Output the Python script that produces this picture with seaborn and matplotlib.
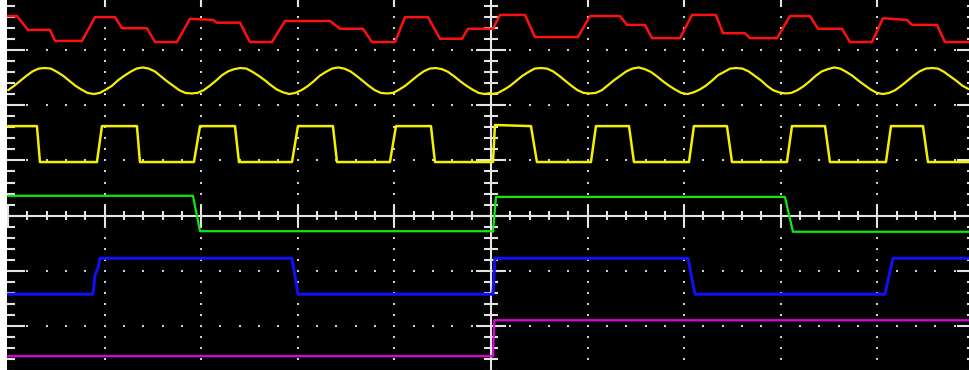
import matplotlib
matplotlib.use('Agg')
import matplotlib.pyplot as plt
import numpy as np
import pandas as pd
import seaborn as sns

# scope traces, x in horizontal divisions, y in vertical divisions
red_t = [-5.0, -4.907, -4.793, -4.565, -4.513, -4.234, -4.099, -3.892, -3.820, -3.561,
         -3.478, -3.251, -3.116, -2.878, -2.836, -2.598, -2.495, -2.267, -2.133, -1.667,
         -1.563, -1.325, -1.232, -0.994, -0.890, -0.652, -0.528, -0.300, -0.238, -0.010,
         0.021, 0.093, 0.352, 0.455, 0.901, 1.025, 1.335, 1.408, 1.594, 1.667,
         1.957, 2.081, 2.329, 2.402, 2.629, 2.681, 2.961, 3.095, 3.302, 3.385,
         3.634, 3.716, 3.944, 4.058, 4.306, 4.358, 4.617, 4.700, 4.96]
red_v = [3.61, 3.61, 3.36, 3.36, 3.16, 3.16, 3.59, 3.59, 3.39, 3.39,
         3.14, 3.14, 3.56, 3.54, 3.49, 3.49, 3.14, 3.14, 3.52, 3.52,
         3.38, 3.38, 3.14, 3.14, 3.59, 3.59, 3.20, 3.20, 3.38, 3.38,
         3.38, 3.63, 3.63, 3.23, 3.23, 3.61, 3.61, 3.45, 3.45, 3.21,
         3.21, 3.63, 3.63, 3.30, 3.30, 3.21, 3.21, 3.61, 3.61, 3.38,
         3.38, 3.14, 3.14, 3.57, 3.54, 3.45, 3.45, 3.14, 3.14]

sine_left_start, sine_right_start, sine_step = -4.998, 0.01, 0.06325
sine_left = [2.27, 2.35, 2.44, 2.53, 2.61, 2.66, 2.67, 2.66, 2.60, 2.53, 2.44, 2.35, 2.28, 2.22, 2.20, 2.22,
             2.28, 2.35, 2.45, 2.53, 2.60, 2.66, 2.68, 2.66, 2.61, 2.52, 2.43, 2.35, 2.27, 2.22, 2.21, 2.22,
             2.27, 2.35, 2.44, 2.54, 2.61, 2.65, 2.67, 2.66, 2.60, 2.53, 2.45, 2.36, 2.28, 2.23, 2.20, 2.22,
             2.27, 2.34, 2.43, 2.53, 2.60, 2.66, 2.68, 2.66, 2.61, 2.53, 2.44, 2.35, 2.27, 2.22, 2.21, 2.22,
             2.28, 2.35, 2.44, 2.53, 2.61, 2.66, 2.67, 2.65, 2.60, 2.52, 2.43, 2.35, 2.28, 2.22, 2.20, 2.22]
sine_right = [2.20, 2.22, 2.28, 2.35, 2.44, 2.53, 2.60, 2.66, 2.67, 2.66, 2.61, 2.53, 2.44, 2.35, 2.27, 2.22,
              2.21, 2.22, 2.27, 2.36, 2.45, 2.53, 2.61, 2.66, 2.68, 2.65, 2.60, 2.52, 2.43, 2.35, 2.28, 2.22,
              2.20, 2.23, 2.28, 2.35, 2.44, 2.54, 2.60, 2.66, 2.67, 2.66, 2.61, 2.53, 2.45, 2.35, 2.27, 2.23,
              2.21, 2.22, 2.27, 2.34, 2.43, 2.53, 2.61, 2.65, 2.68, 2.66, 2.60, 2.53, 2.44, 2.36, 2.28, 2.22,
              2.20, 2.22, 2.27, 2.35, 2.44, 2.53, 2.61, 2.66, 2.67, 2.66, 2.60, 2.52, 2.44, 2.35, 2.29]

square_t = [-5.0, -4.700, -4.669, -4.079, -4.027, -3.665, -3.634, -3.075, -3.012, -2.650,
            -2.609, -2.060, -1.998, -1.636, -1.594, -1.046, -0.983, -0.621, -0.580, 0.0,
            0.021, 0.041, 0.414, 0.476, 1.035, 1.087, 1.429, 1.480, 2.050, 2.101,
            2.443, 2.495, 3.064, 3.116, 3.458, 3.509, 4.089, 4.141, 4.472, 4.524, 4.96]
square_v = [1.62, 1.62, 0.97, 0.97, 1.62, 1.62, 0.97, 0.97, 1.62, 1.62,
            0.97, 0.97, 1.62, 1.62, 0.97, 0.97, 1.62, 1.62, 0.97, 0.97,
            0.97, 1.64, 1.62, 0.97, 0.97, 1.62, 1.62, 0.97, 0.97, 1.62,
            1.62, 0.97, 0.97, 1.62, 1.62, 0.97, 0.97, 1.62, 1.62, 0.97, 0.97]

green_t = [-5.0, -3.085, -3.012, 0.0, 0.021, 0.052, 3.043, 3.126, 4.96]
green_v = [0.36, 0.36, -0.28, -0.28, -0.29, 0.34, 0.34, -0.29, -0.29]

blue_t = [-5.0, -4.120, -4.099, -4.068, -4.048, -2.060, -1.998, 0.0, 0.021, 0.041,
          2.039, 2.112, 4.079, 4.161, 4.96]
blue_v = [-1.42, -1.42, -1.07, -0.95, -0.77, -0.77, -1.42, -1.42, -1.42, -0.77,
          -0.77, -1.42, -1.42, -0.77, -0.77]

magenta_t = [-5.0, 0.0, 0.021, 0.035, 4.96]
magenta_v = [-2.54, -2.54, -2.54, -1.89, -1.89]

XMIN, XMAX = -5.01, 4.959
YMIN, YMAX = -2.79, 3.90
GRID = '#d2d2d2'
AXIS = '#e4e4e4'


def trace(ax, t, v, color, lw):
    df = pd.DataFrame({'t': t, 'v': v})
    sns.lineplot(data=df, x='t', y='v', sort=False, estimator=None,
                 color=color, lw=lw, ax=ax)


def draw_graticule(ax):
    fine_y = np.round(np.arange(-2.8, 3.81, 0.2), 2)
    fine_x = np.round(np.arange(-5.0, 5.01, 0.2), 2)
    dx, dy = [], []
    for gx in [-4, -3, -2, -1, 1, 2, 3, 4]:
        dx += [gx] * len(fine_y)
        dy += list(fine_y)
    for gy in [-2, -1, 1, 2, 3]:
        dx += list(fine_x)
        dy += [gy] * len(fine_x)
    ax.scatter(dx, dy, s=3.5, marker='s', color=GRID, linewidths=0, zorder=1)

    ax.axhline(0, color=AXIS, lw=1.5, zorder=1)
    ax.axvline(0, color=AXIS, lw=1.5, zorder=1)
    for xv in fine_x:
        major = abs(xv - round(xv)) < 1e-6
        h = 0.2 if major else 0.082
        ax.vlines(xv, -h, h, color=AXIS, lw=1.5, zorder=1)
    for yv in fine_y:
        major = abs(yv - round(yv)) < 1e-6
        h = 0.155 if major else 0.075
        ax.hlines(yv, -h, h, color=AXIS, lw=1.5, zorder=1)
        # frame ticks, left and right borders
        ln = 0.186 if major else 0.083
        ax.hlines(yv, -5.01, -5.01 + ln, color=AXIS, lw=1.5, zorder=1)
        ax.hlines(yv, 5.01 - ln, 5.01, color=AXIS, lw=1.5, zorder=1)
    for gx in [-4, -3, -2, -1, 1, 2, 3, 4]:
        ax.vlines(gx, 3.775, 3.9, color=AXIS, lw=1.5, zorder=1)


def main():
    sns.set_style('dark')
    fig = plt.figure(figsize=(9.7, 3.7), dpi=100, facecolor='white')
    ax = fig.add_axes([7 / 970, 0, 963 / 970, 1])
    ax.set_facecolor('black')

    draw_graticule(ax)

    sine_t = list(sine_left_start + sine_step * np.arange(len(sine_left))) + \
        list(sine_right_start + sine_step * np.arange(len(sine_right)))
    trace(ax, red_t, red_v, '#ff1010', 1.8)
    trace(ax, sine_t, sine_left + sine_right, '#f4f000', 1.6)
    trace(ax, square_t, square_v, '#f4f000', 1.8)
    trace(ax, green_t, green_v, '#10e810', 1.6)
    trace(ax, blue_t, blue_v, '#1010f0', 2.2)
    trace(ax, magenta_t, magenta_v, '#e000e0', 1.6)

    ax.set_xlim(XMIN, XMAX)
    ax.set_ylim(YMIN, YMAX)
    ax.set_xticks([])
    ax.set_yticks([])
    ax.set_xlabel('')
    ax.set_ylabel('')
    for s in ax.spines.values():
        s.set_visible(False)
    ax.grid(False)

    fig.savefig('out.png', dpi=100, facecolor='white')


if __name__ == '__main__':
    main()
